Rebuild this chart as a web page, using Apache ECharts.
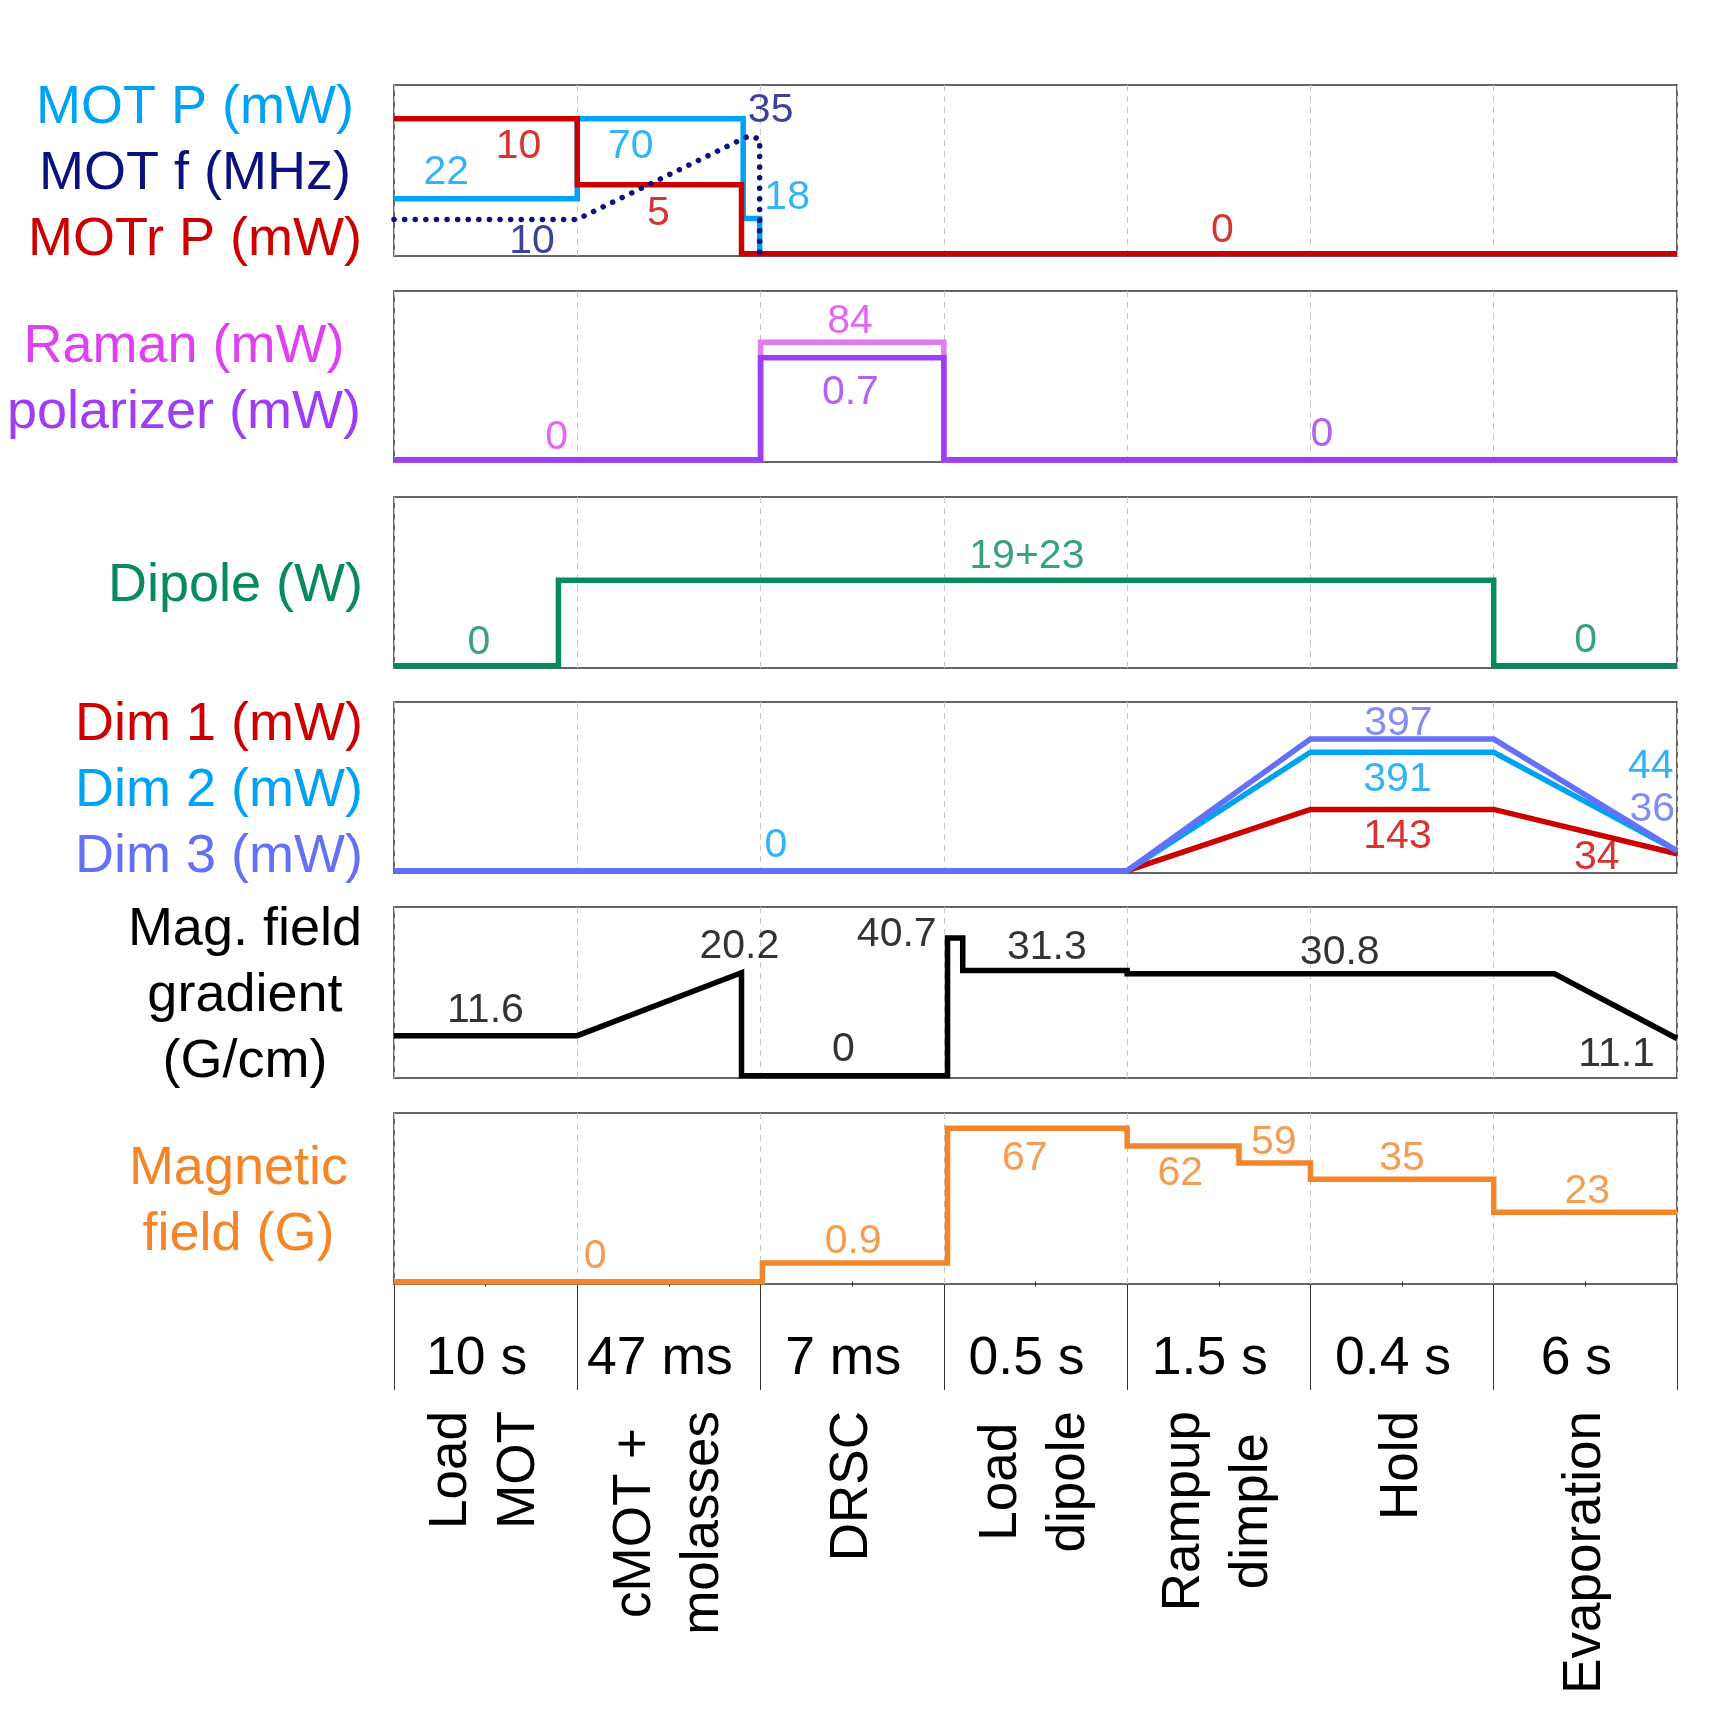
<!DOCTYPE html>
<html>
<head>
<meta charset="utf-8">
<script src="https://cdn.jsdelivr.net/npm/echarts@6/dist/echarts.min.js"></script>
<style>
  html, body { margin: 0; padding: 0; background: #fff; }
  #chart { width: 1713px; height: 1713px; }
</style>
</head>
<body>
<div id="chart"></div>
<script>
// x runs over the 7 phases (0..7), y is the drawn level as a fraction of the panel height
const durations = ['10 s', '47 ms', '7 ms', '0.5 s', '1.5 s', '0.4 s', '6 s'];
const phaseLines = [['Load', 'MOT'], ['cMOT +', 'molasses'], ['DRSC'], ['Load', 'dipole'], ['Rampup', 'dimple'], ['Hold'], ['Evaporation']];

const panelTitles = [
  ['MOT P (mW)', 'MOT f (MHz)', 'MOTr P (mW)'],
  ['Raman (mW)', 'polarizer (mW)'],
  ['Dipole (W)'],
  ['Dim 1 (mW)', 'Dim 2 (mW)', 'Dim 3 (mW)'],
  ['Mag. field', 'gradient', '(G/cm)'],
  ['Magnetic', 'field (G)']
];

// panel 1
const motP = [[0, 0.326], [1, 0.326], [1, 0.80], [1.905, 0.80], [1.905, 0.209], [1.995, 0.209], [1.995, 0], [7, 0]];
const motrP = [[0, 0.80], [1, 0.80], [1, 0.408], [1.896, 0.408], [1.896, 0], [7, 0]];
const motF = [[0, 0.203], [1, 0.203], [1.935, 0.698], [1.995, 0.68], [1.995, 0]];
const motPLabels = [[0.285, 0.505, '22'], [1.292, 0.659, '70'], [2.145, 0.356, '18']];
const motFLabels = [[2.055, 0.874, '35'], [0.753, 0.092, '10']];
const motrPLabels = [[0.679, 0.659, '10'], [1.442, 0.258, '5'], [4.52, 0.158, '0']];

// panel 2
const raman = [[0, 0], [2, 0], [2, 0.696], [3, 0.696], [3, 0], [7, 0]];
const polarizer = [[0, 0], [2, 0], [2, 0.604], [3, 0.604], [3, 0], [7, 0]];
const ramanLabels = [[0.888, 0.153, '0'], [2.488, 0.84, '84']];
const polarizerLabels = [[2.49, 0.418, '0.7'], [5.063, 0.172, '0']];

// panel 3
const dipole = [[0, 0], [0.897, 0], [0.897, 0.507], [6, 0.507], [6, 0], [7, 0]];
const dipoleLabels = [[0.463, 0.162, '0'], [3.453, 0.668, '19+23'], [6.502, 0.172, '0']];

// panel 4
const dim1 = [[0, 0], [4, 0], [5, 0.363], [6, 0.363], [7, 0.10]];
const dim2 = [[0, 0], [4, 0], [5, 0.702], [6, 0.702], [7, 0.117]];
const dim3 = [[0, 0], [4, 0], [5, 0.78], [6, 0.78], [7, 0.117]];
const dim1Labels = [[5.475, 0.226, '143'], [6.562, 0.098, '34']];
const dim2Labels = [[2.084, 0.172, '0'], [5.475, 0.565, '391'], [6.857, 0.64, '44']];
const dim3Labels = [[5.48, 0.893, '397'], [6.865, 0.386, '36']];

// panel 5
const gradient = [[0, 0.237], [1, 0.237], [1.896, 0.61], [1.896, 0], [3.02, 0], [3.02, 0.816], [3.103, 0.816], [3.103, 0.623],
  [4, 0.623], [4, 0.604], [6.331, 0.604], [7, 0.22]];
const gradientLabels = [[0.499, 0.41, '11.6'], [1.884, 0.79, '20.2'], [2.452, 0.179, '0'], [2.743, 0.857, '40.7'],
  [3.562, 0.78, '31.3'], [5.16, 0.754, '30.8'], [6.67, 0.146, '11.1']];

// panel 6
const field = [[0, 0], [2.01, 0], [2.01, 0.111], [3.02, 0.111], [3.02, 0.909], [4, 0.909], [4, 0.805], [4.61, 0.805],
  [4.61, 0.704], [5, 0.704], [5, 0.607], [6, 0.607], [6, 0.412], [7, 0.412]];
const fieldLabels = [[1.098, 0.17, '0'], [2.505, 0.263, '0.9'], [3.442, 0.753, '67'], [4.29, 0.665, '62'],
  [4.8, 0.85, '59'], [5.5, 0.753, '35'], [6.51, 0.559, '23']];

const FONT = "'Liberation Sans', Arial, sans-serif";
const C = {
  blue: '#00A3F3', navy: '#0B1280', red: '#CC0000', pink: '#E47AF2', magenta: '#DF40F2',
  purple: '#9E3CF6', green: '#078A5C', peri: '#6470F7', black: '#000000', orange: '#F28628'
};
const titleColors = [
  [C.blue, C.navy, C.red],
  [C.magenta, C.purple],
  [C.green],
  [C.red, C.blue, C.peri],
  [C.black, C.black, C.black],
  [C.orange, C.orange]
];
const nameGaps = [32, 33, 31, 31, 32, 46];
const panelTops = [85, 291, 497, 702, 907, 1113];

const grids = panelTops.map(t => ({
  left: 394, width: 1283, top: t, height: 171,
  show: true, borderColor: '#333', borderWidth: 1.5, backgroundColor: 'transparent'
}));
grids.push({ left: 394, width: 1283, top: 1284, height: 106, show: false });

const xAxes = panelTops.map((t, i) => ({
  type: 'value', gridIndex: i, min: 0, max: 7, interval: 1,
  axisLine: { show: false }, axisTick: { show: false }, axisLabel: { show: false },
  splitLine: { show: true, lineStyle: { color: '#c6c6c6', type: [6, 5], width: 1 } },
  minorTick: i === 5 ? { show: true, splitNumber: 2, length: 5, lineStyle: { color: '#333', width: 1 } } : { show: false }
}));
xAxes.push({
  type: 'category', gridIndex: 6, position: 'top', data: durations, boundaryGap: true,
  axisLine: { show: false }, axisTick: { show: false },
  splitLine: { show: true, interval: 0, lineStyle: { color: '#333', width: 1, type: 'solid' } },
  axisLabel: { inside: true, margin: 75, verticalAlign: 'middle', interval: 0, fontSize: 53.5, color: '#000',
    fontFamily: FONT, padding: [0, 18, 0, 0] }
});
xAxes.push({
  type: 'category', gridIndex: 6, position: 'bottom', data: phaseLines.map(l => l.join(' ')), boundaryGap: true,
  axisLine: { show: false }, axisTick: { show: false }, splitLine: { show: false },
  axisLabel: {
    rotate: 90, margin: 21, interval: 0,
    formatter: (v, i) => phaseLines[i].map(s => '{c|' + s + '}').join('\n'),
    rich: { c: { align: 'center', fontSize: 53, lineHeight: 68, color: '#000', fontFamily: FONT } }
  }
});

const yAxes = panelTitles.map((lines, i) => {
  const rich = {};
  lines.forEach((s, k) => {
    rich['l' + k] = { align: 'center', color: titleColors[i][k], fontSize: 54, lineHeight: 66, fontFamily: FONT };
  });
  return {
    type: 'value', gridIndex: i, min: -0.014, max: 1,
    axisLine: { show: false }, axisTick: { show: false }, axisLabel: { show: false }, splitLine: { show: false },
    name: lines.map((s, k) => '{l' + k + '|' + s + '}').join('\n'),
    nameLocation: 'middle', nameRotate: 0, nameGap: nameGaps[i],
    nameTextStyle: { rich: rich, fontFamily: FONT, fontSize: 54, padding: [8, 0, 0, 0] }
  };
});
yAxes.push({ type: 'value', gridIndex: 6, min: 0, max: 1, show: false });

const line = (idx, data, color, style) => ({
  type: 'line', xAxisIndex: idx, yAxisIndex: idx, data: data,
  symbol: 'none', clip: false, silent: true,
  lineStyle: Object.assign({ color: color, width: 5.5, join: 'miter', cap: 'butt' }, style || {})
});
const labels = (idx, data, color) => ({
  type: 'scatter', xAxisIndex: idx, yAxisIndex: idx, data: data,
  symbolSize: 1, itemStyle: { color: 'rgba(0,0,0,0)' }, silent: true, z: 5,
  label: { show: true, position: 'inside', offset: [0, 4], formatter: p => p.data[2], color: color, fontSize: 41, fontFamily: FONT }
});

const series = [
  line(0, motP, C.blue),
  line(0, motrP, C.red),
  line(0, motF, C.navy, { type: [0.1, 10.5], cap: 'round', width: 5.5 }),
  labels(0, motPLabels, C.blue),
  labels(0, motFLabels, C.navy),
  labels(0, motrPLabels, C.red),

  line(1, raman, C.pink),
  line(1, polarizer, C.purple),
  labels(1, ramanLabels, C.magenta),
  labels(1, polarizerLabels, C.purple),

  line(2, dipole, C.green),
  labels(2, dipoleLabels, C.green),

  line(3, dim1, C.red),
  line(3, dim2, C.blue),
  line(3, dim3, C.peri),
  labels(3, dim1Labels, C.red),
  labels(3, dim2Labels, C.blue),
  labels(3, dim3Labels, C.peri),

  line(4, gradient, C.black),
  labels(4, gradientLabels, C.black),

  line(5, field, C.orange),
  labels(5, fieldLabels, C.orange)
];

const chart = echarts.init(document.getElementById('chart'));
chart.setOption({
  animation: false,
  backgroundColor: '#fff',
  textStyle: { fontFamily: FONT },
  grid: grids,
  xAxis: xAxes,
  yAxis: yAxes,
  series: series
});
</script>
</body>
</html>
